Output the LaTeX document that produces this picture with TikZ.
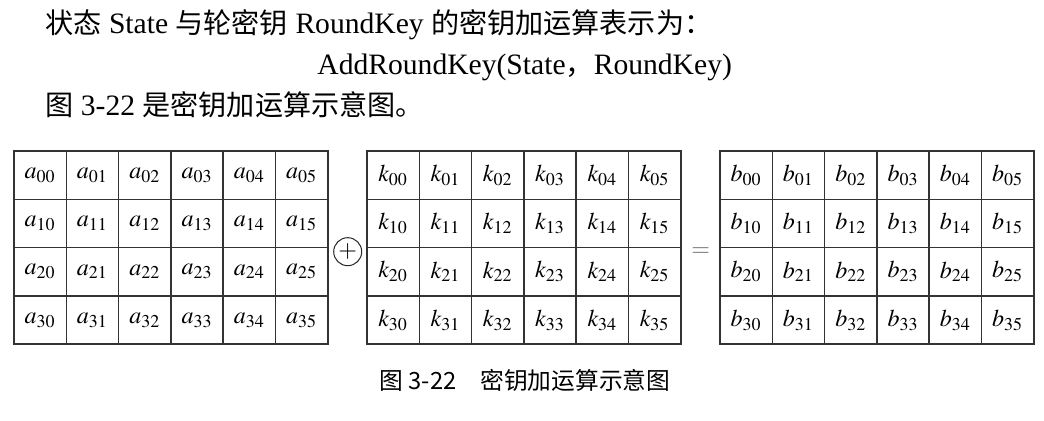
\documentclass[tikz,border=0pt]{standalone}
\usepackage{mathptmx}
\usepackage{fontspec}
\setmainfont{Liberation Serif}
\newfontfamily\cjk[Scale=0.95]{Noto Sans CJK SC}
\usetikzlibrary{positioning}

\begin{document}
\begin{tikzpicture}[
        x=0.5pt, y=-0.5pt,
        cell/.style={rectangle, draw=black!80, line width=0.75pt, minimum width=26.15pt, minimum height=24.15pt, inner sep=0pt, font=\fontsize{12}{14}\selectfont},
        textline/.style={anchor=west, inner sep=0pt, font=\fontsize{14.8}{17}\selectfont}
    ]
    \useasboundingbox (0,0) rectangle (1044,421);

    \node[textline] (intro) at (45,25) {{\cjk 状态} State {\cjk 与轮密钥} RoundKey {\cjk 的密钥加运算表示为：}};
    \node[textline] (formula) at (317,67) {AddRoundKey(State{\cjk ，}RoundKey)};
    \node[textline] (refline) at (45,105) {{\cjk 图} 3-22 {\cjk 是密钥加运算示意图。}};

    % state, round key and result: 4 rows by 6 columns each
    \foreach \r in {0,...,3} {
        \foreach \c in {0,...,5} {
            \node[cell] (a\r\c) at (40.15 + 52.3*\c, 175.15 + 48.3*\r) {$a_{\r\c}$};
            \node[cell] (k\r\c) at (393.15 + 52.3*\c, 175.15 + 48.3*\r) {$k_{\r\c}$};
            \node[cell] (b\r\c) at (746.15 + 52.3*\c, 175.15 + 48.3*\r) {$b_{\r\c}$};
        }
    }

    \node[circle, draw=black!85, line width=0.5pt, minimum size=14pt, inner sep=0pt, font=\fontsize{12}{12}\selectfont] (xor) at (347.7,251.7) {$+$};
    \node[text=black!55, inner sep=0pt, font=\fontsize{12}{12}\selectfont] (equals) at (700.7,251.7) {$=$};

    \node[font=\cjk\fontsize{12.5}{14}\selectfont] (caption) at (525,380) {图 3-22\quad 密钥加运算示意图};
\end{tikzpicture}
\end{document}
